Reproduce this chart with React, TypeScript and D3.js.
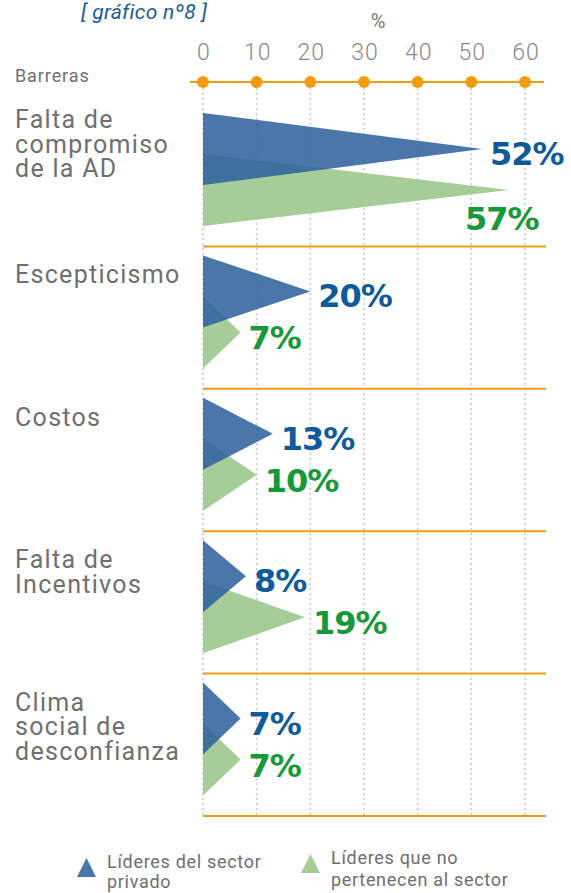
import React from 'react';
import * as d3 from 'd3';

// data
const categories = [
  'Falta de compromiso de la AD',
  'Escepticismo',
  'Costos',
  'Falta de Incentivos',
  'Clima social de desconfianza',
];
const categoryLines = [
  ['Falta de', 'compromiso', 'de la AD'],
  ['Escepticismo'],
  ['Costos'],
  ['Falta de', 'Incentivos'],
  ['Clima', 'social de', 'desconfianza'],
];
const privado = [52, 20, 13, 8, 7];
const noPertenecen = [57, 7, 10, 19, 7];
const tickValues = [0, 10, 20, 30, 40, 50, 60];

const W = 571;
const H = 893;
const axisY = 82;
const halfH = 36;     // half height of a triangle
const greenShift = 41; // green triangle sits below the blue one
const labelNudge = [-13, 0, 0, 0, 0];

const BLUE = '#31639d';
const GREEN = '#a6cd98';
const BLUE_TXT = '#0f5a9b';
const GREEN_TXT = '#16983b';
const ORANGE = '#f39c12';
const GREY = '#6f6f6f';
const FONT = 'Roboto, "Noto Sans", sans-serif';
const NUM_FONT = '"DejaVu Sans", Verdana, sans-serif';

const x = d3.scaleLinear().domain([0, 60]).range([203, 525]);
const y = d3.scaleBand<string>().domain(categories).range([104, 816]);

const tri = (v: number, cy: number) => {
  const p = d3.path();
  p.moveTo(x(0), cy - halfH);
  p.lineTo(x(v), cy);
  p.lineTo(x(0), cy + halfH);
  p.closePath();
  return p.toString();
};

export default function App() {
  const bw = y.bandwidth();
  return (
    <svg width={W} height={H} style={{ position: 'absolute', left: 0, top: 0, background: '#fff' }}>
      <text x={81} y={19} fontFamily={FONT} fontStyle="italic" fontSize={21} letterSpacing={0.3} fill="#1a5d9c">
        [ gráfico nº8 ]
      </text>
      <text x={378} y={28} textAnchor="middle" fontFamily={FONT} fontSize={20} fill="#777">%</text>
      <text x={15} y={82} fontFamily={FONT} fontSize={18} letterSpacing={0.9} fill={GREY}>Barreras</text>

      {/* grid */}
      {tickValues.map((t) => (
        <line key={'g' + t} x1={x(t)} x2={x(t)} y1={axisY + 6} y2={817}
          stroke="#c8c8c8" strokeWidth={1.5} strokeDasharray="2,3" />
      ))}

      {/* axis */}
      <line x1={190} x2={544} y1={axisY} y2={axisY} stroke={ORANGE} strokeWidth={2} />
      {tickValues.map((t) => (
        <g key={'t' + t}>
          <circle cx={x(t)} cy={axisY} r={6} fill={ORANGE} />
          <text x={x(t) + 1} y={60} textAnchor="middle" fontFamily={FONT} fontWeight={300}
            fontSize={23} letterSpacing={1} fill="#8a8a8a">{t}</text>
        </g>
      ))}

      {categories.map((c, i) => {
        const top = y(c) as number;
        const cy = top + 45;
        const gy = cy + greenShift;
        const bTip = x(privado[i]);
        const gTip = x(noPertenecen[i]);
        const gBelow = gTip + 9 + 75 > 560;
        return (
          <g key={c}>
            <text fontFamily={FONT} fontSize={25} letterSpacing={1.3} fill={GREY}>
              {categoryLines[i].map((l, k) => (
                <tspan key={k} x={15} y={cy - 8 + labelNudge[i] + k * 24.5}>{l}</tspan>
              ))}
            </text>
            <path d={tri(noPertenecen[i], gy)} fill={GREEN} />
            <path d={tri(privado[i], cy)} fill={BLUE} fillOpacity={0.88} />
            <text x={bTip + 8} y={cy + 16} fontFamily={NUM_FONT} fontWeight="bold" fontSize={32}
              letterSpacing={-1} fill={BLUE_TXT}>{privado[i]}%</text>
            <text x={gBelow ? gTip - 44 : gTip + 8} y={gBelow ? gy + 40 : gy + 17}
              fontFamily={NUM_FONT} fontWeight="bold" fontSize={32} letterSpacing={-1}
              fill={GREEN_TXT}>{noPertenecen[i]}%</text>
            <line x1={x(0)} x2={546} y1={top + bw} y2={top + bw} stroke={ORANGE} strokeWidth={2} />
          </g>
        );
      })}

      {/* legend */}
      <path d="M77,877L86.5,858L96,877Z" fill="#4a76a9" />
      <text fontFamily={FONT} fontSize={18} letterSpacing={0.7} fill={GREY}>
        <tspan x={107} y={868}>Líderes del sector</tspan>
        <tspan x={107} y={888}>privado</tspan>
      </text>
      <path d="M301,873L310.5,854L320,873Z" fill={GREEN} />
      <text fontFamily={FONT} fontSize={18} letterSpacing={0.7} fill={GREY}>
        <tspan x={331} y={864}>Líderes que no</tspan>
        <tspan x={331} y={886}>pertenecen al sector</tspan>
      </text>
    </svg>
  );
}
